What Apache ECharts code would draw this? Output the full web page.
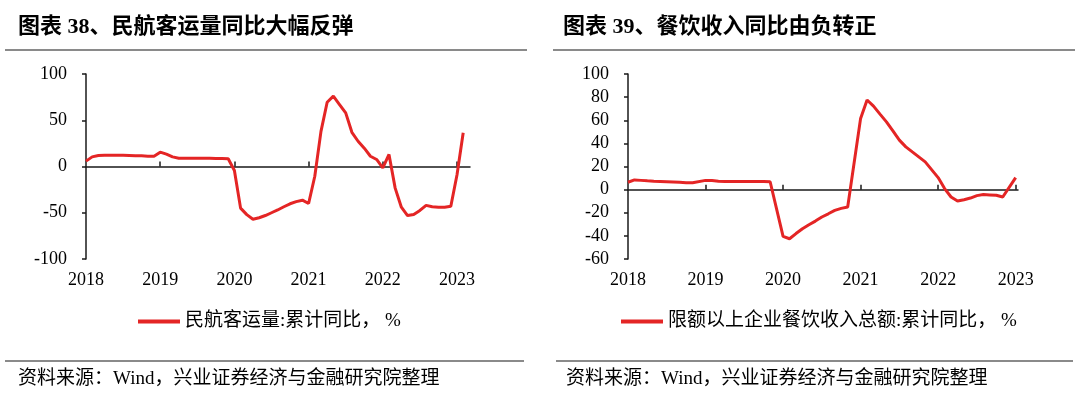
<!DOCTYPE html>
<html><head><meta charset="utf-8">
<script src="https://cdn.jsdelivr.net/npm/echarts@6/dist/echarts.min.js"></script>
<style>html,body{margin:0;padding:0;background:#fff}#c{width:1080px;height:400px}</style>
</head><body><div id="c"></div>
<script>
// 民航客运量:累计同比 (%), monthly
const airMonths = [
  '2018-02','2018-03','2018-04','2018-05','2018-06','2018-07','2018-08','2018-09','2018-10','2018-11','2018-12',
  '2019-01','2019-02','2019-03','2019-04','2019-05','2019-06','2019-07','2019-08','2019-09','2019-10','2019-11','2019-12',
  '2020-01','2020-02','2020-03','2020-04','2020-05','2020-06','2020-07','2020-08','2020-09','2020-10','2020-11','2020-12',
  '2021-01','2021-02','2021-03','2021-04','2021-05','2021-06','2021-07','2021-08','2021-09','2021-10','2021-11','2021-12',
  '2022-01','2022-02','2022-03','2022-04','2022-05','2022-06','2022-07','2022-08','2022-09','2022-10','2022-11','2022-12',
  '2023-01','2023-02','2023-03'
];
const airYoY = [
  5.8, 10.4, 11.9, 12.2, 12.2, 12.2, 12.1, 11.9, 11.7, 11.5, 11.2,
  11.2, 15.5, 13.3, 10.4, 9.0, 9.0, 9.0, 9.0, 9.0, 8.8, 8.6, 8.6,
  8.3, -4.3, -45, -52, -57, -55.4, -53, -50, -47, -43.5, -40.3, -38,
  -36.4, -40, -10.5, 38, 69.5, 76, 67, 58, 37, 27.3, 19.8, 11.1,
  7.6, -1.4, 13, -23.4, -44, -53, -51.8, -47.5, -42, -43.5, -44, -44,
  -43, -9, 36.4
];
// 限额以上企业餐饮收入总额:累计同比 (%), Jan-Feb combined
const cateringMonths = [
  '2018-02','2018-03','2018-04','2018-05','2018-06','2018-07','2018-08','2018-09','2018-10','2018-11','2018-12',
  '2019-02','2019-03','2019-04','2019-05','2019-06','2019-07','2019-08','2019-09','2019-10','2019-11','2019-12',
  '2020-02','2020-03','2020-04','2020-05','2020-06','2020-07','2020-08','2020-09','2020-10','2020-11','2020-12',
  '2021-02','2021-03','2021-04','2021-05','2021-06','2021-07','2021-08','2021-09','2021-10','2021-11','2021-12',
  '2022-02','2022-03','2022-04','2022-05','2022-06','2022-07','2022-08','2022-09','2022-10','2022-11','2022-12',
  '2023-02'
];
const cateringYoY = [
  6.4, 8.4, 8.0, 7.6, 7.3, 7.1, 6.9, 6.6, 6.3, 6.0, 5.9,
  8.0, 7.8, 7.3, 7.1, 7.0, 7.0, 7.1, 7.1, 7.0, 7.0, 6.8,
  -40.5, -42.5, -38, -33.8, -30.4, -27.2, -23.7, -20.9, -18, -16.2, -15,
  61.6, 77.5, 72.2, 65.3, 58.6, 50.8, 42.8, 37, 32.6, 28.3, 24,
  10.4, 0.9, -6.4, -9.9, -8.7, -7.3, -5.2, -4.3, -4.6, -4.9, -6.4,
  10.4
];
const yearLabels = [2018, 2019, 2020, 2021, 2022, 2023];
const yearTicks = [2019, 2020, 2021, 2022, 2023];
const airName = '民航客运量:累计同比， %';
const cateringName = '限额以上企业餐饮收入总额:累计同比， %';
const titleLeft = '图表 38、民航客运量同比大幅反弹';
const titleRight = '图表 39、餐饮收入同比由负转正';
const sourceText = '资料来源：Wind，兴业证券经济与金融研究院整理';

const SERIF = "'Liberation Serif','Noto Sans CJK SC',serif";
const RED = '#e42525';
const AX = '#1a1a1a';

function toPoints(months, vals) {
  return months.map((m, i) => {
    const p = m.split('-').map(Number);
    return [p[0] + (p[1] - 2) / 12, vals[i]];
  });
}

function labelAxis(grid, max) {
  return {
    type: 'value', gridIndex: grid, min: 2018, max: max, position: 'bottom',
    axisLine: { show: false, onZero: false }, axisTick: { show: false }, splitLine: { show: false },
    axisLabel: { customValues: yearLabels, formatter: v => String(Math.round(v)),
      color: '#000', fontFamily: SERIF, fontSize: 18, margin: 12 }
  };
}
function zeroAxis(grid, max) {
  return {
    type: 'value', gridIndex: grid, min: 2018, max: max, position: 'bottom',
    axisLine: { show: true, onZero: true, lineStyle: { color: AX, width: 1.5 } },
    axisTick: { show: true, inside: true, length: 5, customValues: yearTicks, lineStyle: { color: AX, width: 1.5 } },
    axisLabel: { show: false }, splitLine: { show: false }
  };
}
function yAxis(grid, min, max, interval) {
  return {
    type: 'value', gridIndex: grid, min: min, max: max, interval: interval,
    axisLine: { show: true, lineStyle: { color: AX, width: 1.5 } },
    axisTick: { show: true, length: 4, lineStyle: { color: AX, width: 1.5 } },
    splitLine: { show: false },
    axisLabel: { color: '#000', fontFamily: SERIF, fontSize: 18, margin: 19 }
  };
}

const chart = echarts.init(document.getElementById('c'), null, { renderer: 'canvas' });
chart.setOption({
  animation: false,
  backgroundColor: '#fff',
  grid: [
    { left: 86, right: 610, top: 74, bottom: 141 },
    { left: 628, right: 62, top: 74, bottom: 141 }
  ],
  xAxis: [labelAxis(0, 2023.175), zeroAxis(0, 2023.175), labelAxis(1, 2023.03), zeroAxis(1, 2023.03)],
  yAxis: [yAxis(0, -100, 100, 50), yAxis(1, -60, 100, 20)],
  legend: [
    { data: [airName], left: 138, top: 312, padding: 0, itemWidth: 42, itemHeight: 4, icon: 'rect',
      textStyle: { color: '#000', fontFamily: SERIF, fontSize: 19 } },
    { data: [cateringName], left: 621, top: 312, padding: 0, itemWidth: 42, itemHeight: 4, icon: 'rect',
      textStyle: { color: '#000', fontFamily: SERIF, fontSize: 19 } }
  ],
  series: [
    { name: airName, type: 'line', xAxisIndex: 0, yAxisIndex: 0, data: toPoints(airMonths, airYoY),
      showSymbol: false, symbol: 'none', color: RED, lineStyle: { color: RED, width: 3 }, z: 5 },
    { name: cateringName, type: 'line', xAxisIndex: 2, yAxisIndex: 1, data: toPoints(cateringMonths, cateringYoY),
      showSymbol: false, symbol: 'none', color: RED, lineStyle: { color: RED, width: 3 }, z: 5 }
  ],
  graphic: [
    { type: 'text', x: 18, y: 27, style: { text: titleLeft, font: "bold 22px " + SERIF, fill: '#000', textVerticalAlign: 'middle' } },
    { type: 'text', x: 563, y: 27, style: { text: titleRight, font: "bold 22px " + SERIF, fill: '#000', textVerticalAlign: 'middle' } },
    { type: 'line', shape: { x1: 5, y1: 50, x2: 527, y2: 50 }, style: { stroke: '#8a8a8a', lineWidth: 2 } },
    { type: 'line', shape: { x1: 553, y1: 50, x2: 1075, y2: 50 }, style: { stroke: '#8a8a8a', lineWidth: 2 } },
    { type: 'line', shape: { x1: 5, y1: 361, x2: 524, y2: 361 }, style: { stroke: '#8a8a8a', lineWidth: 2 } },
    { type: 'line', shape: { x1: 556, y1: 361, x2: 1073, y2: 361 }, style: { stroke: '#8a8a8a', lineWidth: 2 } },
    { type: 'text', x: 18, y: 379, style: { text: sourceText, font: "19px " + SERIF, fill: '#000', textVerticalAlign: 'middle' } },
    { type: 'text', x: 566, y: 379, style: { text: sourceText, font: "19px " + SERIF, fill: '#000', textVerticalAlign: 'middle' } }
  ]
});
</script></body></html>
